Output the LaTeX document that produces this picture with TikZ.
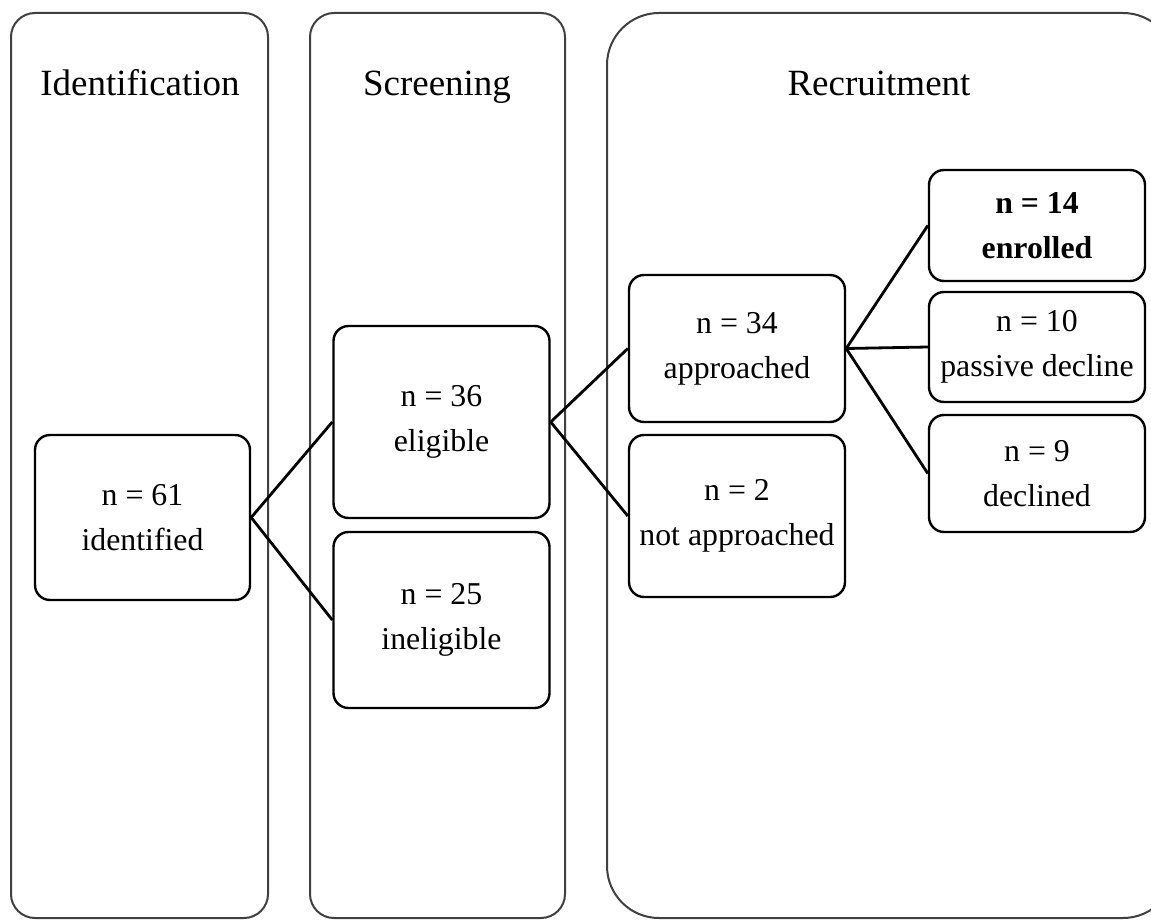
\documentclass[tikz,border=0pt]{standalone}
\usepackage{fontspec}
\setmainfont{Liberation Serif}

\begin{document}
\begin{tikzpicture}[x=0.5pt,y=-0.5pt,
  panel/.style={draw=black!75,line width=1pt},
  title/.style={anchor=base,font=\fontsize{18.5}{22}\selectfont},
  box/.style={draw,line width=1.2pt,rounded corners=7.5pt,align=center,
    minimum width=108pt,inner sep=0pt,font=\fontsize{15.9}{22.5}\selectfont},
  link/.style={line width=1.4pt}]
  \useasboundingbox (0,0) rectangle (1151,920);
  \clip (0,0) rectangle (1151,920);

  % stage panels
  \draw[panel,rounded corners=12pt] (11,13) rectangle (268,918);
  \draw[panel,rounded corners=12pt] (310,13) rectangle (565,918);
  \draw[panel,rounded corners=26pt] (607,13) rectangle (1175,918);

  \node[title] (tident) at (140,96) {Identification};
  \node[title] (tscreen) at (437,96) {Screening};
  \node[title] (trecruit) at (879,96) {Recruitment};

  % counts
  \node[box,minimum width=107.5pt,minimum height=82.5pt] (ident) at (142.5,517.5) {n = 61\\identified};
  \node[box,minimum height=96pt] (elig) at (441.5,422) {n = 36\\eligible};
  \node[box,minimum height=88pt] (inelig) at (441.5,620) {n = 25\\ineligible};
  \node[box,minimum height=73.5pt] (appr) at (737,348.5) {n = 34\\approached};
  \node[box,minimum height=81pt] (notappr) at (737,516) {n = 2\\not approached};
  \node[box,minimum height=55.5pt,font=\fontsize{15.9}{22.5}\selectfont\bfseries] (enrol) at (1037,225.5) {n = 14\\enrolled};
  \node[box,minimum height=55pt] (passive) at (1037,347) {n = 10\\passive decline};
  \node[box,minimum height=58.5pt] (declin) at (1037,473.5) {n = 9\\declined};

  \draw[link] (ident.east) -- (elig.west);
  \draw[link] (ident.east) -- (inelig.west);
  \draw[link] (elig.east) -- (appr.west);
  \draw[link] (elig.east) -- (notappr.west);
  \draw[link] (appr.east) -- (enrol.west);
  \draw[link] (appr.east) -- (passive.west);
  \draw[link] (appr.east) -- (declin.west);
\end{tikzpicture}
\end{document}
